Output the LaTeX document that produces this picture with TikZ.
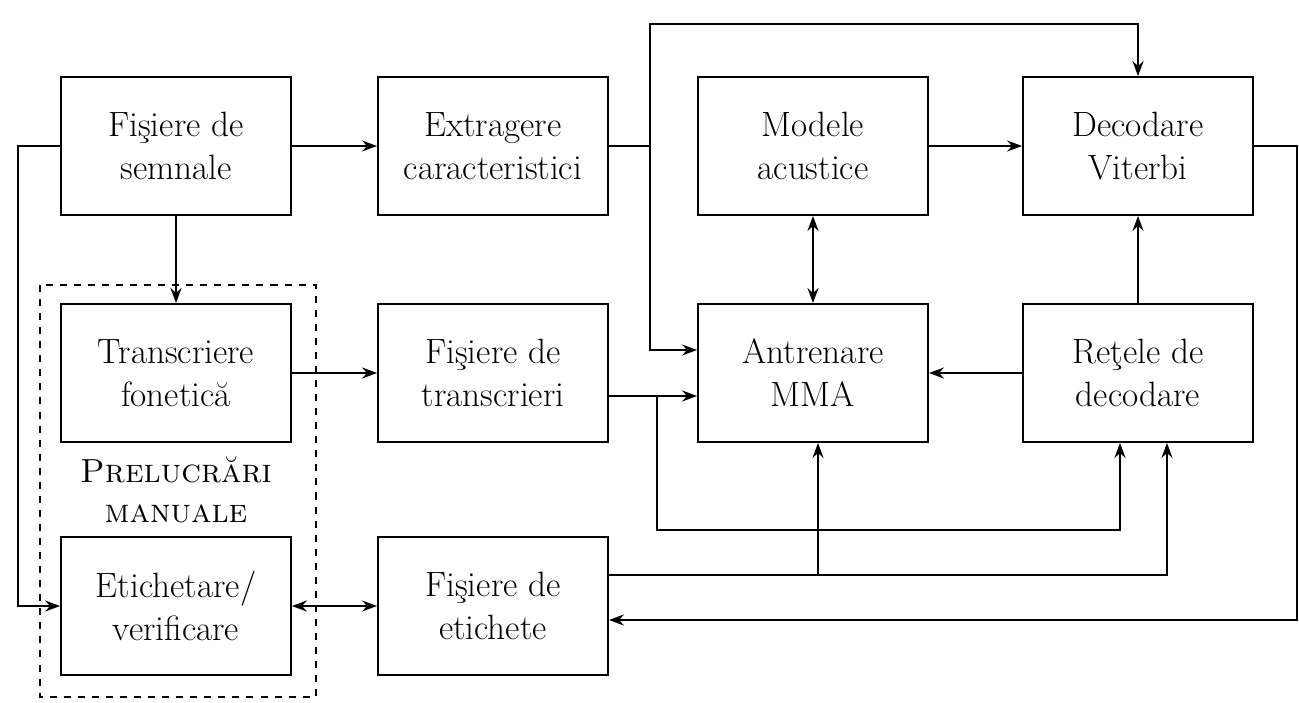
\documentclass[tikz,border=0pt]{standalone}
\usetikzlibrary{arrows.meta}
\newlength{\blockwidth}
\setlength{\blockwidth}{4.6cm}
\newlength{\blockheight}
\setlength{\blockheight}{2.76cm}
\tikzset{
    block/.style={draw, line width=1.1pt, minimum width=\blockwidth,
        minimum height=\blockheight, align=center, inner sep=0pt,
        font=\fontsize{20}{24.5}\selectfont},
    flow/.style={line width=1.1pt, -{Stealth[length=3mm, width=2.2mm, inset=1mm]}},
    both/.style={line width=1.1pt, {Stealth[length=3mm, width=2.2mm, inset=1mm]}-{Stealth[length=3mm, width=2.2mm, inset=1mm]}},
    link/.style={line width=1.1pt},
    group/.style={draw, line width=0.8pt, dash pattern=on 4pt off 4pt},
}

\begin{document}
\begin{tikzpicture}[x=0.02cm, y=-0.02cm]
    \useasboundingbox (0,0) rectangle (1299,703);

    \node[block] (semnale) at (176,146) {Fişiere de\\semnale};
    \node[block] (extragere) at (493,146) {Extragere\\caracteristici};
    \node[block] (modele) at (813,146) {Modele\\acustice};
    \node[block] (viterbi) at (1138,146) {Decodare\\Viterbi};

    \node[block] (transcriere) at (176,373) {Transcriere\\fonetică};
    \node[block] (ftranscrieri) at (493,373) {Fişiere de\\transcrieri};
    \node[block] (antrenare) at (813,373) {Antrenare\\MMA};
    \node[block] (retele) at (1138,373) {Reţele de\\decodare};

    \node[block] (etichetare) at (176,606) {Etichetare/\\verificare};
    \node[block] (fetichete) at (493,606) {Fişiere de\\etichete};

    \draw[group] (40,285) rectangle (316,697);
    \node[align=center, font=\fontsize{19}{23}\selectfont] (manuale) at (176,490)
        {\textsc{Prelucrări}\\\textsc{manuale}};

    \coordinate (split) at (650,146);
    \coordinate (top) at (650,24);
    \coordinate (tbranch) at (657,396);
    \coordinate (tcorner) at (1120,530);
    \coordinate (ebranch) at (818,575);
    \coordinate (ecorner) at (1167,575);
    \coordinate (rtop) at (1297,146);

    \draw[flow] (semnale) -- (extragere);
    \draw[flow] (semnale) -- (transcriere);
    \draw[flow] (semnale.west) -- ++(-42,0) |- (etichetare.west);

    \draw[link] (extragere) -- (split);
    \draw[flow] (split) |- ([yshift=4.6mm]antrenare.west);
    \draw[flow] (split) -- (top) -| (viterbi.north);

    \draw[both] (modele) -- (antrenare);
    \draw[flow] (modele) -- (viterbi);
    \draw[flow] (retele) -- (viterbi);
    \draw[flow] (retele) -- (antrenare);

    \draw[flow] (transcriere) -- (ftranscrieri);
    \draw[flow] ([yshift=-4.6mm]ftranscrieri.east) -- ([yshift=-4.6mm]antrenare.west);
    \draw[flow] (tbranch) |- (tcorner) -- (tcorner |- retele.south);

    \draw[flow] ([yshift=6.2mm]fetichete.east) -- (ecorner) -- (ecorner |- retele.south);
    \draw[flow] (ebranch) -- (ebranch |- antrenare.south);
    \draw[both] (etichetare) -- (fetichete);

    \draw[flow] (viterbi) -- (rtop) |- ([yshift=-2.8mm]fetichete.east);
\end{tikzpicture}
\end{document}
